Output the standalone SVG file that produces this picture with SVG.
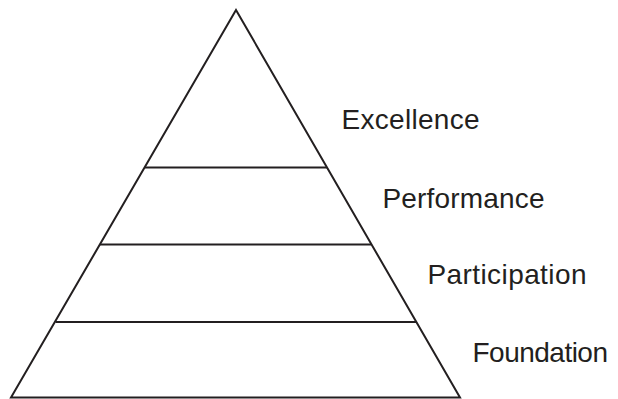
<svg xmlns="http://www.w3.org/2000/svg" width="618" height="399" viewBox="0 0 618 399">
<style>
.ln{stroke:#231f20;stroke-width:2;fill:none;stroke-linejoin:miter}
.lb{font-family:"Liberation Sans",Arial,sans-serif;font-size:28px;fill:#231f20}
</style>
<rect width="618" height="399" fill="#fff"/>
<g id="pyramid">
<polygon class="ln" points="236,10 460,397.5 11,397.5"/>
<line class="ln" x1="145" y1="167.5" x2="327" y2="167.5"/>
<line class="ln" x1="100" y1="244.5" x2="371" y2="244.5"/>
<line class="ln" x1="55.5" y1="322" x2="416" y2="322"/>
</g>
<g id="labels">
<text class="lb" x="341.5" y="129" textLength="138">Excellence</text>
<text class="lb" x="382.5" y="208" textLength="162">Performance</text>
<text class="lb" x="427.5" y="284" textLength="159">Participation</text>
<text class="lb" x="472.5" y="362" textLength="135.5">Foundation</text>
</g>
</svg>
